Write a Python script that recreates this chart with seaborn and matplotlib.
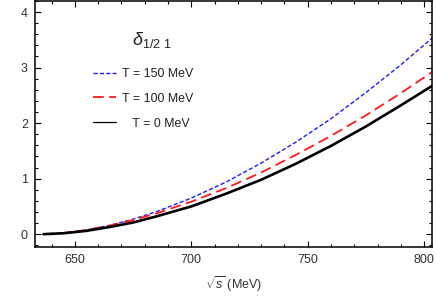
import numpy as np
import pandas as pd
import matplotlib
matplotlib.use('Agg')
import matplotlib.pyplot as plt
import seaborn as sns

# データ
sqrt_s = [636.5, 645, 655, 665, 675, 685, 700, 715, 730, 745, 760, 775, 790, 803.4]
d_T150 = [0.0, 0.019, 0.075, 0.16, 0.27, 0.405, 0.65, 0.94, 1.28, 1.66, 2.08, 2.55, 3.05, 3.53]
d_T100 = [0.0, 0.021, 0.076, 0.155, 0.255, 0.374, 0.585, 0.83, 1.11, 1.43, 1.77, 2.14, 2.54, 2.92]
d_T0 = [0.0, 0.016, 0.06, 0.13, 0.21, 0.32, 0.50, 0.73, 0.98, 1.27, 1.59, 1.94, 2.32, 2.67]

x_ticks = [650, 700, 750, 800]
y_ticks = [0, 1, 2, 3, 4]

df = pd.DataFrame({'sqrt_s': sqrt_s, 'T150': d_T150, 'T100': d_T100, 'T0': d_T0})

sns.set_theme(style='ticks')
plt.rcParams['font.family'] = ['Liberation Sans', 'DejaVu Sans']
plt.rcParams['mathtext.fontset'] = 'custom'
plt.rcParams['mathtext.rm'] = 'Liberation Sans'
plt.rcParams['mathtext.it'] = 'Liberation Sans:italic'

fig = plt.figure(figsize=(4.36, 3.03), dpi=100)
ax = fig.add_axes([0.080, 0.185, 0.911, 0.812])

sns.lineplot(data=df, x='sqrt_s', y='T150', ax=ax, color='#1a1aff', lw=1.0,
             linestyle=(0, (3, 1.6)), label='T = 150 MeV')
sns.lineplot(data=df, x='sqrt_s', y='T100', ax=ax, color='#ff1a1a', lw=1.3,
             linestyle=(0, (6, 3)), label='T = 100 MeV')
sns.lineplot(data=df, x='sqrt_s', y='T0', ax=ax, color='black', lw=1.9,
             label='   T = 0 MeV')

ax.set_xlim(632.8, 803.4)
ax.set_ylim(-0.23, 4.2)
ax.set_xticks(x_ticks)
ax.set_yticks(y_ticks)
ax.xaxis.set_minor_locator(matplotlib.ticker.MultipleLocator(10))
ax.yaxis.set_minor_locator(matplotlib.ticker.MultipleLocator(0.2))
ax.tick_params(which='both', direction='in', top=True, right=True,
               color='black', width=0.8, labelsize=9, labelcolor='#333333')
ax.tick_params(which='major', length=4.5, pad=5)
ax.tick_params(which='minor', length=2.5)
for sp in ax.spines.values():
    sp.set_linewidth(1.1)
    sp.set_color('black')

ax.set_xlabel(r'$\sqrt{s}$ (MeV)', fontsize=9, color='#333333', labelpad=6)
ax.set_ylabel('')

ax.text(0.295, 0.84, r'$\delta_{1/2\ 1}$', transform=ax.transAxes,
        fontsize=13, ha='center', va='center', color='#222222')

leg = ax.legend(loc='upper left', bbox_to_anchor=(0.146, 0.728), frameon=False,
                fontsize=8.9, handlelength=1.9, handletextpad=0.45, labelspacing=1.05,
                borderpad=0, borderaxespad=0, labelcolor='#222222')
leg.legend_handles[2].set_linewidth(0.9)

fig.savefig('out.png', dpi=100)
